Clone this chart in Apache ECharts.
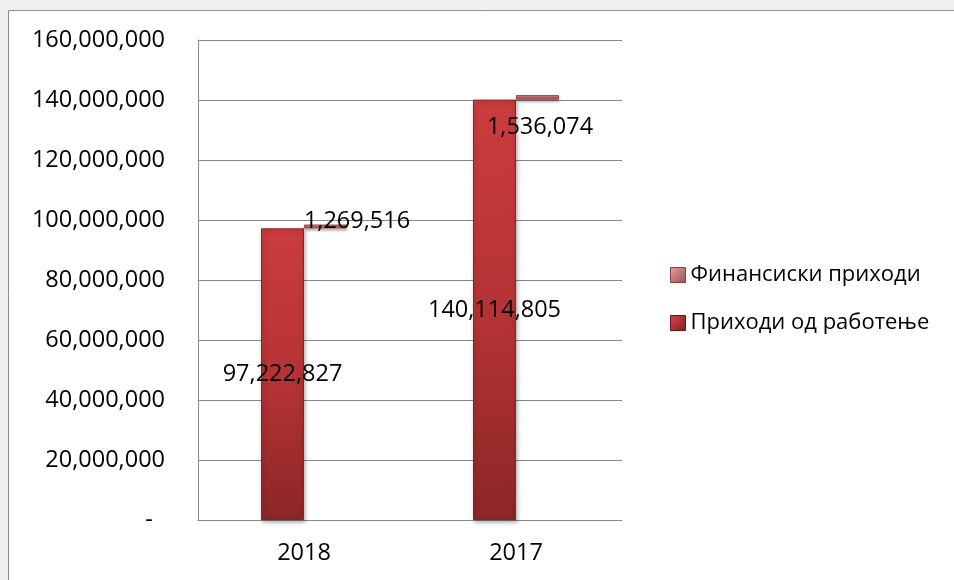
<!DOCTYPE html>
<html>
<head>
<meta charset="utf-8">
<script src="https://cdn.jsdelivr.net/npm/echarts@6/dist/echarts.min.js"></script>
<style>
html,body{margin:0;padding:0;background:#f0f0f0;}
#chart{width:954px;height:580px;}
</style>
</head>
<body>
<div id="chart"></div>
<script>
const categories = ['2018', '2017'];
const operatingIncome = [97222827, 140114805];
const financialIncome = [1269516, 1536074];
const seriesNames = ['Приходи од работење', 'Финансиски приходи'];
const yTicks = { min: 0, max: 160000000, interval: 20000000 };

const FONT = 'Open Sans';
const FS = 23.5;
const fmt = v => Number(v).toLocaleString('en-US');

const bigBarColor = {
  type: 'linear', x: 0, y: 0, x2: 0, y2: 1,
  colorStops: [
    { offset: 0, color: '#cb3c3d' },
    { offset: 0.55, color: '#b33234' },
    { offset: 1, color: '#8c2626' }
  ]
};
const smallBarColor = {
  type: 'linear', x: 0, y: 0, x2: 0, y2: 1,
  colorStops: [
    { offset: 0, color: '#d77a7a' },
    { offset: 1, color: '#b35a5a' }
  ]
};
const legendBig = {
  type: 'linear', x: 0, y: 0, x2: 1, y2: 1,
  colorStops: [{ offset: 0, color: '#d84a4a' }, { offset: 1, color: '#7e1c1c' }]
};
const legendSmall = {
  type: 'linear', x: 0, y: 0, x2: 1, y2: 1,
  colorStops: [{ offset: 0, color: '#e6a0a0' }, { offset: 1, color: '#9c5050' }]
};

// label anchor points relative to the small bars (Excel placed them individually)
const smallLabelPos = [[53, -3], [24, 32]];

const chart = echarts.init(document.getElementById('chart'), null, { renderer: 'canvas' });

chart.setOption({
  backgroundColor: '#f0f0f0',
  animation: false,
  graphic: [{
    type: 'rect', z: -10, silent: true,
    shape: { x: 8.5, y: 10.5, width: 1000, height: 700 },
    style: { fill: '#ffffff', stroke: '#8c8c8c', lineWidth: 1 }
  }],
  grid: { left: 198, top: 40, width: 424, height: 480, containLabel: false },
  legend: {
    orient: 'vertical',
    left: 665,
    top: 259,
    itemWidth: 15,
    itemHeight: 15,
    itemGap: 26,
    icon: 'rect',
    textStyle: { fontFamily: FONT, fontSize: 22, color: '#000' },
    data: [
      { name: seriesNames[1], itemStyle: { color: legendSmall, borderColor: '#8a4040', borderWidth: 1 } },
      { name: seriesNames[0], itemStyle: { color: legendBig, borderColor: '#6e1515', borderWidth: 1 } }
    ]
  },
  xAxis: {
    type: 'category',
    data: categories,
    axisLine: { show: true, lineStyle: { color: '#898989', width: 1 } },
    axisTick: { show: false },
    axisLabel: { margin: 21, fontFamily: FONT, fontSize: FS, color: '#000' }
  },
  yAxis: {
    type: 'value',
    min: yTicks.min, max: yTicks.max, interval: yTicks.interval,
    axisLine: { show: true, lineStyle: { color: '#898989', width: 1 } },
    axisTick: { show: false },
    splitLine: { show: true, lineStyle: { color: '#898989', width: 1 } },
    axisLabel: {
      margin: 33, fontFamily: FONT, fontSize: FS, color: '#000',
      formatter: v => v === 0 ? '-  ' : fmt(v)
    }
  },
  series: [
    {
      name: seriesNames[0],
      type: 'bar',
      data: operatingIncome,
      barWidth: 43,
      barGap: '0%',
      itemStyle: {
        color: bigBarColor, borderColor: '#8a2222', borderWidth: 1,
        shadowColor: 'rgba(0,0,0,0.3)', shadowBlur: 4, shadowOffsetX: 1, shadowOffsetY: 2
      },
      label: {
        show: true, position: 'inside', fontFamily: FONT, fontSize: FS, color: '#000',
        formatter: p => fmt(p.value)
      },
      z: 3
    },
    {
      name: 'base',
      type: 'bar',
      stack: 'fin',
      data: operatingIncome,
      barWidth: 43,
      silent: true,
      itemStyle: { color: 'rgba(0,0,0,0)' },
      label: { show: false },
      tooltip: { show: false }
    },
    {
      name: seriesNames[1],
      type: 'bar',
      stack: 'fin',
      barWidth: 43,
      data: financialIncome.map((v, i) => ({
        value: v,
        label: { position: smallLabelPos[i] }
      })),
      itemStyle: {
        color: smallBarColor, borderColor: '#a04848', borderWidth: 1,
        shadowColor: 'rgba(0,0,0,0.3)', shadowBlur: 3, shadowOffsetY: 2
      },
      label: {
        show: true, fontFamily: FONT, fontSize: FS, color: '#000',
        align: 'center', verticalAlign: 'middle',
        formatter: p => fmt(p.value)
      },
      z: 4
    }
  ]
});
</script>
</body>
</html>
